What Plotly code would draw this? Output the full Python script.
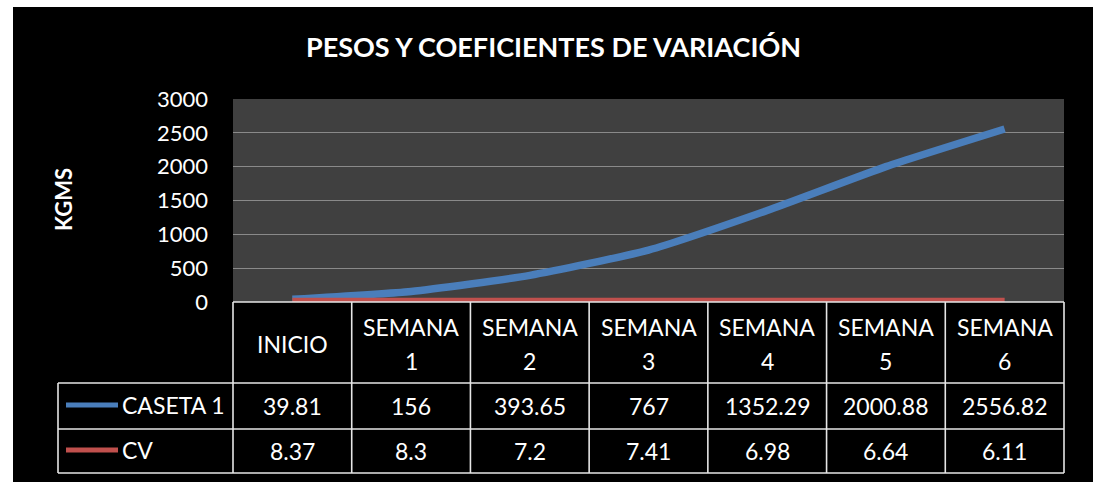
import plotly.graph_objects as go

# ---- data ----
categories = ["INICIO", "SEMANA 1", "SEMANA 2", "SEMANA 3", "SEMANA 4", "SEMANA 5", "SEMANA 6"]
series_names = ["CASETA 1", "CV"]
caseta1 = [39.81, 156, 393.65, 767, 1352.29, 2000.88, 2556.82]
cv = [8.37, 8.3, 7.2, 7.41, 6.98, 6.64, 6.11]
caseta1_labels = ["39.81", "156", "393.65", "767", "1352.29", "2000.88", "2556.82"]
cv_labels = ["8.37", "8.3", "7.2", "7.41", "6.98", "6.64", "6.11"]
y_ticks = [0, 500, 1000, 1500, 2000, 2500, 3000]

title_text = "PESOS Y COEFICIENTES DE VARIACIÓN"
y_title = "KGMS"

# ---- geometry (pixels) ----
W, H = 1093, 482
L, R, T, B = 233, 1064, 99, 302
PW, PH = R - L, B - T

def px(x):
    return (x - L) / PW

def py(y):
    return (B - y) / PH

BLUE = "#4a7ebb"
RED = "#c0504d"
FONT = "Lato"

fig = go.Figure()
fig.add_trace(go.Scatter(x=categories, y=caseta1, mode="lines", name=series_names[0],
                         line=dict(color=BLUE, width=7.5, shape="spline", smoothing=0.5)))
fig.add_trace(go.Scatter(x=categories, y=cv, mode="lines", name=series_names[1],
                         line=dict(color=RED, width=7.5, shape="spline", smoothing=0.5)))

shapes = []
annotations = []

# white borders of the picture
shapes.append(dict(type="rect", xref="paper", yref="paper", x0=px(0), x1=px(W), y0=py(0), y1=py(7),
                   fillcolor="white", line=dict(width=0), layer="above"))
shapes.append(dict(type="rect", xref="paper", yref="paper", x0=px(0), x1=px(13), y0=py(0), y1=py(H),
                   fillcolor="white", line=dict(width=0), layer="above"))

# data table lines
n = len(categories)
LINE = dict(color="#e6e6e6", width=1.6)
row_y = [302, 383, 429, 473]
leg_x = 58
for yy in row_y:
    x0 = px(L) if yy == 302 else px(leg_x)
    shapes.append(dict(type="line", xref="paper", yref="paper", x0=x0, x1=1, y0=py(yy), y1=py(yy), line=LINE))
for k in range(n + 1):
    xk = k / n
    shapes.append(dict(type="line", xref="paper", yref="paper", x0=xk, x1=xk, y0=py(302), y1=py(473), line=LINE))
shapes.append(dict(type="line", xref="paper", yref="paper", x0=px(leg_x), x1=px(leg_x), y0=py(383), y1=py(473), line=LINE))

TFONT = dict(family=FONT, size=23, color="white")
# header labels
for c in categories:
    parts = c.split(" ")
    if len(parts) == 1:
        annotations.append(dict(x=c, xref="x", y=py(344), yref="paper", text=parts[0], showarrow=False,
                                font=TFONT, xanchor="center", yanchor="middle"))
    else:
        for j, p in enumerate(parts):
            annotations.append(dict(x=c, xref="x", y=py(327 + 34 * j), yref="paper", text=p, showarrow=False,
                                    font=TFONT, xanchor="center", yanchor="middle"))

# value rows
for labels, yy in ((caseta1_labels, 406), (cv_labels, 451)):
    for c, t in zip(categories, labels):
        annotations.append(dict(x=c, xref="x", y=py(yy), yref="paper", text=t, showarrow=False,
                                font=TFONT, xanchor="center", yanchor="middle"))

# legend keys
for name, col, yy in ((series_names[0], BLUE, 405), (series_names[1], RED, 450)):
    shapes.append(dict(type="line", xref="paper", yref="paper", x0=px(66), x1=px(118), y0=py(yy), y1=py(yy),
                       line=dict(color=col, width=5)))
    annotations.append(dict(x=px(120), xref="paper", y=py(yy), yref="paper", text=name, showarrow=False,
                            font=TFONT, xanchor="left", yanchor="middle"))

# title and axis title
annotations.append(dict(x=px(553), xref="paper", y=py(46), yref="paper", text="<b>" + title_text + "</b>",
                        showarrow=False, font=dict(family=FONT, size=27, color="white"),
                        xanchor="center", yanchor="middle"))
annotations.append(dict(x=px(63), xref="paper", y=py(200), yref="paper", text="<b>" + y_title + "</b>",
                        showarrow=False, textangle=-90, font=dict(family=FONT, size=22, color="white"),
                        xanchor="center", yanchor="middle"))

fig.update_layout(
    width=W, height=H,
    margin=dict(l=L, r=W - R, t=T, b=H - B, pad=0),
    paper_bgcolor="black",
    plot_bgcolor="#404040",
    showlegend=False,
    shapes=shapes,
    annotations=annotations,
    xaxis=dict(range=[-0.5, n - 0.5], showticklabels=False, showgrid=False, zeroline=False,
               showline=False, ticks=""),
    yaxis=dict(range=[0, 3000], tickvals=y_ticks, ticktext=[str(v) for v in y_ticks],
               showgrid=True, gridcolor="#8a8a8a", gridwidth=1.2, zeroline=False, showline=False,
               ticks="", ticklabelstandoff=24,
               tickfont=dict(family=FONT, size=22, color="white")),
)

fig.write_html("out.html", config={"displayModeBar": False},
               post_script="document.body.style.margin='0';document.body.style.overflow='hidden';")
